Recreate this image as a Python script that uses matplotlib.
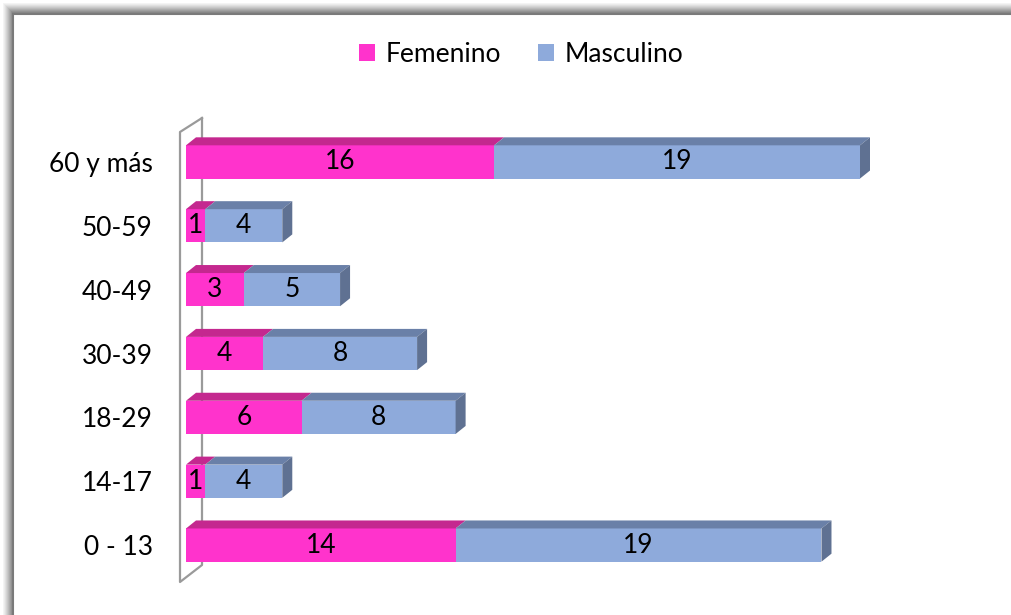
import matplotlib
matplotlib.use("Agg")
import matplotlib.pyplot as plt
from matplotlib.patches import Polygon, Rectangle
from matplotlib.lines import Line2D

plt.rcParams['font.family'] = ['Lato', 'DejaVu Sans']

# Datos
grupos = ['0 - 13', '14-17', '18-29', '30-39', '40-49', '50-59', '60 y más']
femenino = [14, 1, 6, 4, 3, 1, 16]
masculino = [19, 4, 8, 8, 5, 4, 19]

c_fem = '#FF33CC'
c_fem_top = '#C4288F'
c_mas = '#8EAADB'
c_mas_top = '#6A80A8'
c_mas_side = '#5F7192'

W, H = 1011, 615
fig = plt.figure(figsize=(W / 100, H / 100), dpi=100)
fig.patch.set_facecolor('white')

# marco con sombra
for i, g in enumerate(['#f4f4f4', '#ebebeb', '#e0e0e0', '#d4d4d4', '#c8c8c8',
                       '#bbbbbb', '#adadad', '#a0a0a0', '#939393', '#888888']):
    off = 3 + i
    fig.add_artist(Rectangle((off / W, -0.1), 1.2, 1.1 - off / H,
                             transform=fig.transFigure, facecolor=g,
                             edgecolor='none', zorder=-10 + i * 0.01))
fig.add_artist(Rectangle((13 / W, -0.1), 1.2, 1.1 - 14 / H,
                         transform=fig.transFigure, facecolor='white',
                         edgecolor='#7a7a7a', linewidth=1.5, zorder=-9))

# ejes: x 0..35 -> px 186..860, filas entre px 130 y 577
ax = fig.add_axes([186 / W, 38 / H, 674 / W, 447 / H])
ax.patch.set_visible(False)
ax.set_xlim(0, 35)
ax.set_ylim(-0.5, 6.5)

fs = 19
bh = 0.52
y = list(range(len(grupos)))
b1 = ax.barh(y, femenino, height=bh, color=c_fem, zorder=3, label='Femenino')
b2 = ax.barh(y, masculino, left=femenino, height=bh, color=c_mas, zorder=3,
             label='Masculino')

# profundidad 3D (px -> unidades de datos)
dx = 10 / 674 * 35
dy = 8 / 447 * 7
for yi, f, m in zip(y, femenino, masculino):
    top = yi + bh / 2
    bot = yi - bh / 2
    ax.add_patch(Polygon([(0, top), (f, top), (f + dx, top + dy), (dx, top + dy)],
                         closed=True, facecolor=c_fem_top, edgecolor='none',
                         zorder=3, clip_on=False))
    ax.add_patch(Polygon([(f, top), (f + m, top), (f + m + dx, top + dy), (f + dx, top + dy)],
                         closed=True, facecolor=c_mas_top, edgecolor='none',
                         zorder=3, clip_on=False))
    ax.add_patch(Polygon([(f + m, bot), (f + m, top), (f + m + dx, top + dy), (f + m + dx, bot + dy)],
                         closed=True, facecolor=c_mas_side, edgecolor='none',
                         zorder=3, clip_on=False))
    ax.text(f / 2, yi, str(f), ha='center', va='center', fontsize=fs,
            color='black', zorder=5)
    ax.text(f + m / 2, yi, str(m), ha='center', va='center', fontsize=fs,
            color='black', zorder=5)

# pared del eje vertical
def ax_pt(px, py):
    return ((px - 186) / 674, (577 - py) / 447)

wall = [ax_pt(202, 118), ax_pt(180, 132), ax_pt(180, 582), ax_pt(202, 565), ax_pt(202, 118)]
ax.add_line(Line2D([p[0] for p in wall], [p[1] for p in wall], transform=ax.transAxes,
                   color='#9a9a9a', linewidth=1.6, zorder=1, clip_on=False))

ax.set_yticks(y)
ax.set_yticklabels(grupos, fontsize=fs)
ax.tick_params(axis='y', length=0, pad=24)
ax.set_xticks([])
for s in ax.spines.values():
    s.set_visible(False)

fig.legend(handles=[b1, b2], loc='center', bbox_to_anchor=(521 / W, 1 - 54 / H),
           ncol=2, frameon=False, fontsize=fs, handlelength=0.6, handleheight=0.6,
           handletextpad=0.4, columnspacing=1.4)

fig.savefig('out.png', dpi=100)
